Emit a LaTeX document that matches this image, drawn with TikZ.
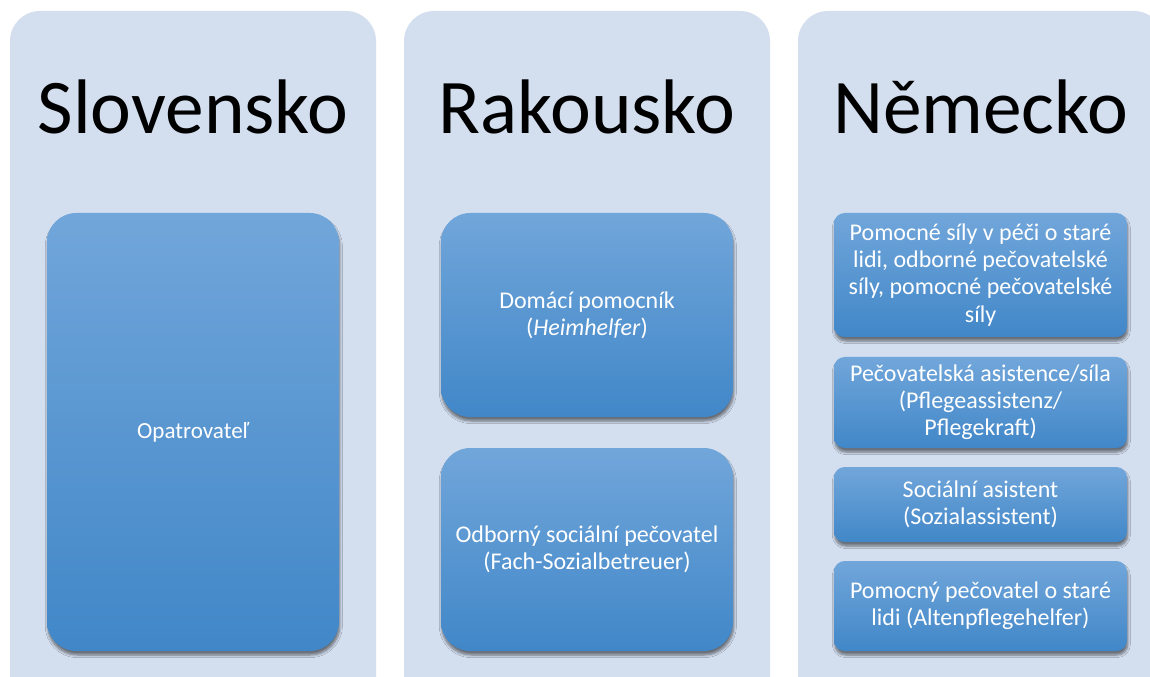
\documentclass[tikz,border=0pt]{standalone}
\usepackage{fontspec}
\setmainfont{Carlito}
\usetikzlibrary{shadows.blur}
\definecolor{colbg}{RGB}{211,222,239}
\definecolor{boxtop}{RGB}{113,166,218}
\definecolor{boxbot}{RGB}{65,135,200}
\tikzset{
  colbox/.style={fill=colbg, draw=none, rounded corners=22.5pt},
  title/.style={anchor=base, font=\fontsize{58}{62}\selectfont, text=black, inner sep=0pt},
  item/.style={rectangle, top color=boxtop, bottom color=boxbot, draw=none,
    text=white, align=center, font=\fontsize{18}{20.4}\selectfont, inner sep=0pt,
    blur shadow={shadow blur steps=6, shadow xshift=0.6pt, shadow yshift=-3pt, shadow opacity=50, shadow blur extra rounding=1pt}},
  bigitem/.style={item, rounded corners=22pt},
  smallitem/.style={item, rounded corners=8pt},
}
\begin{document}
\begin{tikzpicture}[x=0.75pt, y=-0.75pt]
\useasboundingbox (0,0) rectangle (1150,677);
\clip (0,0) rectangle (1150,677);
\fill[white] (0,0) rectangle (1150,677);
% columns
\path[colbox] (10,11) rectangle (376,720);
\path[colbox] (404,11) rectangle (770,720);
\path[colbox] (798,11) rectangle (1164,720);
% titles
\node[title] (t1) at (193,134) {Slovensko};
\node[title] (t2) at (587,134) {Rakousko};
\node[title] (t3) at (980.5,134) {Německo};
% column 1
\node[bigitem, font=\fontsize{17.3}{20.4}\selectfont, minimum width=219pt, minimum height=328.5pt] (s1) at (193,432) {Opatrovateľ};
% column 2
\node[bigitem, minimum width=219pt, minimum height=153pt] (r1) at (587,315) {Domácí pomocník\\(\textit{Heimhelfer})};
\node[bigitem, minimum width=219pt, minimum height=152.25pt] (r2) at (587,549.5) {Odborný sociální pečovatel\\(Fach-Sozialbetreuer)};
% column 3
\node[smallitem, minimum width=219.75pt, minimum height=93pt] (n1) at (980.5,275) {Pomocné síly v péči o staré\\lidi, odborné pečovatelské\\síly, pomocné pečovatelské\\síly};
\node[smallitem, minimum width=219.75pt, minimum height=68.25pt] (n2) at (980.5,402.5) {Pečovatelská asistence/síla\\(Pflegeassistenz/\\Pflegekraft)};
\node[smallitem, minimum width=219.75pt, minimum height=56.25pt] (n3) at (980.5,504.5) {Sociální asistent\\(Sozialassistent)};
\node[smallitem, minimum width=219.75pt, minimum height=67.5pt] (n4) at (980.5,606) {Pomocný pečovatel o staré\\lidi (Altenpflegehelfer)};
\end{tikzpicture}
\end{document}
